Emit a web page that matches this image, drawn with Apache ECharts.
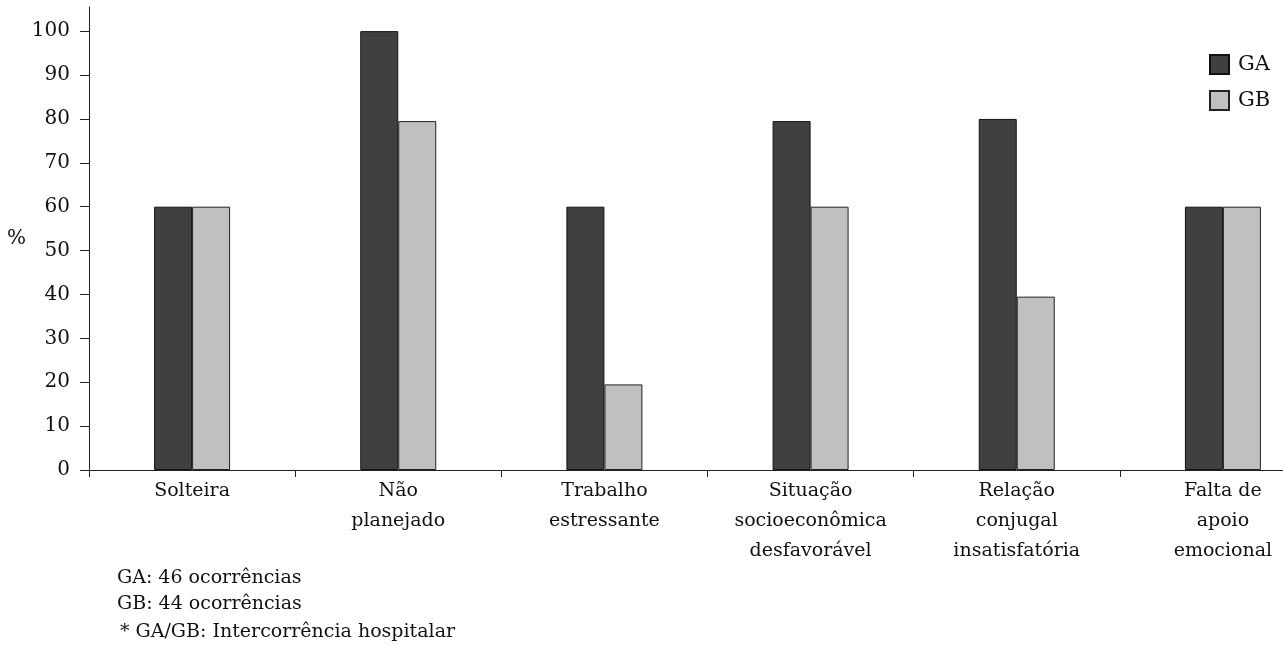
<!DOCTYPE html>
<html>
<head>
<meta charset="utf-8">
<script src="https://cdn.jsdelivr.net/npm/echarts@6/dist/echarts.min.js"></script>
<style>html,body{margin:0;padding:0;background:#fff;overflow:hidden;width:1283px;height:661px}#c{width:1326px;height:661px}</style>
</head>
<body>
<div id="c"></div>
<script>
const categories = ['Solteira', 'Não\nplanejado', 'Trabalho\nestressante', 'Situação\nsocioeconômica\ndesfavorável', 'Relação\nconjugal\ninsatisfatória', 'Falta de\napoio\nemocional'];
const seriesNames = ['GA', 'GB'];
const gaValues = [60, 100, 60, 79.5, 80, 60];
const gbValues = [60, 79.5, 19.5, 60, 39.5, 60];
const yTicks = [0, 10, 20, 30, 40, 50, 60, 70, 80, 90, 100];
const yAxisName = '%';
const notes = ['GA: 46 ocorrências', 'GB: 44 ocorrências', '* GA/GB: Intercorrência hospitalar'];

const FONT = 'DejaVu Serif';
const chart = echarts.init(document.getElementById('c'), null, {renderer: 'canvas'});
chart.setOption({
  animation: false,
  backgroundColor: '#fff',
  grid: {left: 89, right: 0, top: 7, bottom: 191, containLabel: false},
  legend: {
    orient: 'vertical', left: 1204, top: 49,
    itemWidth: 19, itemHeight: 19, itemGap: 15,
    icon: 'rect',
    textStyle: {fontFamily: FONT, fontSize: 21, color: '#111', padding: [0, 0, 0, 4]},
    data: seriesNames
  },
  xAxis: {
    type: 'category',
    data: categories,
    boundaryGap: true,
    axisLine: {lineStyle: {color: '#222', width: 1}},
    axisTick: {show: true, length: 7, lineStyle: {color: '#222'}},
    axisLabel: {fontFamily: FONT, fontSize: 19, color: '#111', lineHeight: 30, margin: 6, interval: 0}
  },
  yAxis: {
    type: 'value',
    min: 0, max: 105.5, interval: 10,
    name: yAxisName,
    nameLocation: 'middle', nameRotate: 0, nameGap: 60,
    nameTextStyle: {fontFamily: FONT, fontSize: 20, color: '#111'},
    splitLine: {show: false},
    axisLine: {show: true, lineStyle: {color: '#222', width: 1}},
    axisTick: {show: true, length: 9, customValues: yTicks, lineStyle: {color: '#222'}},
    axisLabel: {fontFamily: FONT, fontSize: 20, color: '#111', margin: 19, customValues: yTicks}
  },
  series: [
    {name: seriesNames[0], type: 'bar', data: gaValues, barWidth: 38, barGap: '0%',
     itemStyle: {color: '#404040', borderColor: '#111', borderWidth: 1}},
    {name: seriesNames[1], type: 'bar', data: gbValues, barWidth: 38, barGap: '0%',
     itemStyle: {color: '#c0c0c0', borderColor: '#222', borderWidth: 1}}
  ],
  graphic: [
    {type: 'text', left: 117, top: 569, style: {text: notes[0], font: '19px "DejaVu Serif"', fill: '#111'}},
    {type: 'text', left: 117, top: 595, style: {text: notes[1], font: '19px "DejaVu Serif"', fill: '#111'}},
    {type: 'text', left: 120, top: 623, style: {text: notes[2], font: '19px "DejaVu Serif"', fill: '#111'}}
  ]
});
</script>
</body>
</html>
